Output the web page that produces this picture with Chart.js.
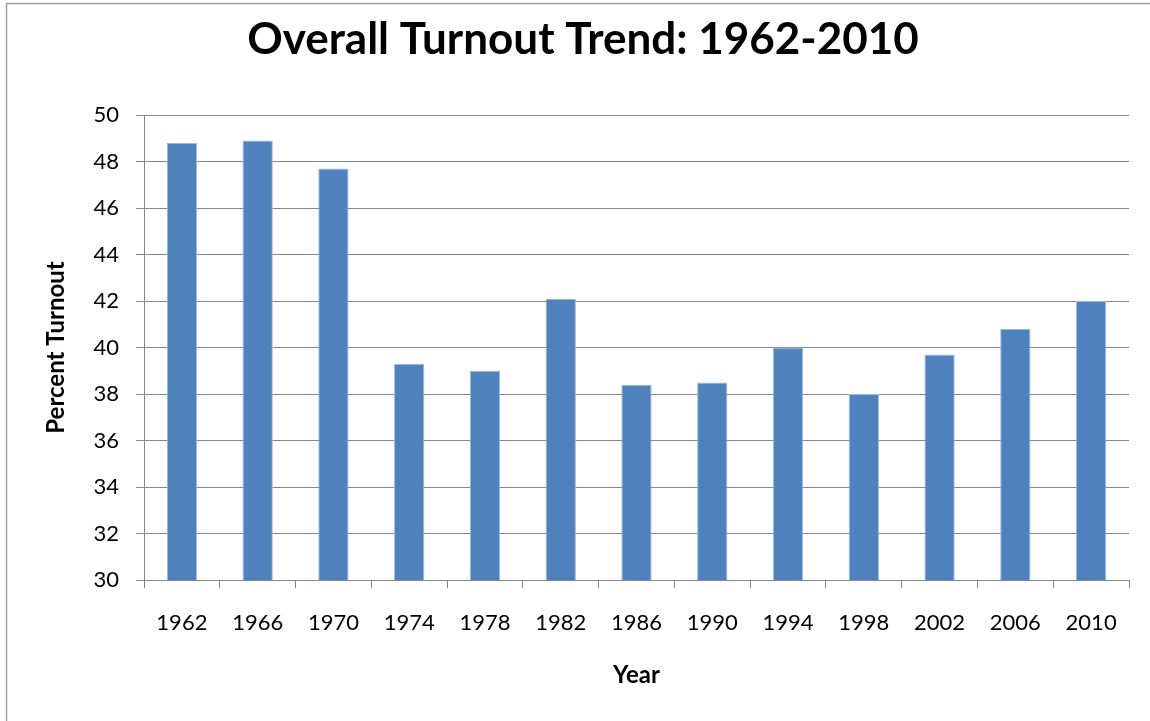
<!DOCTYPE html>
<html>
<head>
<meta charset="utf-8">
<script src="https://cdn.jsdelivr.net/npm/chart.js@4.4.1/dist/chart.umd.min.js"></script>
<style>
  html, body { margin: 0; padding: 0; background: #fff; }
  #wrap { width: 1150px; height: 721px; position: relative; }
</style>
</head>
<body>
<div id="wrap"><canvas id="myChart" width="1150" height="721"></canvas></div>
<script>
var years = ['1962', '1966', '1970', '1974', '1978', '1982', '1986', '1990', '1994', '1998', '2002', '2006', '2010'];
var turnout = [48.8, 48.9, 47.7, 39.3, 39.0, 42.1, 38.4, 38.5, 40.0, 38.0, 39.7, 40.8, 42.0];
var yMin = 30;
var yMax = 50;
var yStep = 2;
var chartTitle = 'Overall Turnout Trend: 1962-2010';

var gridGray = '#868686';

// outer frame (only left/top edges are visible) and the chart title
var framePlugin = {
    id: 'frame',
    beforeDraw: function(chart) {
        var ctx = chart.ctx;
        ctx.save();
        ctx.fillStyle = '#fff';
        ctx.fillRect(0, 0, chart.width, chart.height);
        ctx.strokeStyle = '#a0a0a0';
        ctx.lineWidth = 1.5;
        ctx.strokeRect(6.5, 3.5, chart.width + 20, chart.height + 20);
        ctx.fillStyle = '#000';
        ctx.font = 'bold 44px Lato';
        ctx.textAlign = 'center';
        ctx.textBaseline = 'middle';
        ctx.fillText(chartTitle, 583, 40);
        ctx.restore();
    }
};

var ctx = document.getElementById('myChart');
var myChart = new Chart(ctx, {
    type: 'bar',
    data: {
        labels: years,
        datasets: [{
            label: 'Percent Turnout',
            data: turnout,
            backgroundColor: '#4F81BD',
            borderColor: '#9DB8DC',
            borderWidth: 1,
            categoryPercentage: 1,
            barPercentage: 0.4
        }]
    },
    options: {
        responsive: false,
        animation: false,
        layout: {
            padding: { left: 0, right: 21, top: 115, bottom: 14 }
        },
        plugins: {
            legend: { display: false },
            tooltip: { enabled: false },
            title: { display: false }
        },
        scales: {
            x: {
                grid: {
                    display: true,
                    drawOnChartArea: false,
                    color: gridGray,
                    tickLength: 8,
                    offset: true
                },
                border: { color: gridGray, width: 1 },
                ticks: {
                    color: '#000',
                    font: { family: 'Lato', size: 22 },
                    padding: 22,
                    maxRotation: 0
                },
                title: {
                    display: true,
                    text: 'Year',
                    color: '#000',
                    font: { family: 'Lato', size: 24, weight: 'bold' },
                    padding: { top: 0, bottom: 17 }
                },
                afterFit: function(scale) { scale.height = 127; }
            },
            y: {
                min: yMin,
                max: yMax,
                grid: {
                    color: gridGray,
                    tickLength: 8
                },
                border: { color: gridGray, width: 1 },
                ticks: {
                    stepSize: yStep,
                    color: '#000',
                    font: { family: 'Lato', size: 22 },
                    padding: 17
                },
                title: {
                    display: true,
                    text: 'Percent Turnout',
                    color: '#000',
                    font: { family: 'Lato', size: 24, weight: 'bold' },
                    padding: { top: 42, bottom: 0 }
                },
                afterFit: function(scale) { scale.width = 144; }
            }
        }
    },
    plugins: [framePlugin]
});
</script>
</body>
</html>
